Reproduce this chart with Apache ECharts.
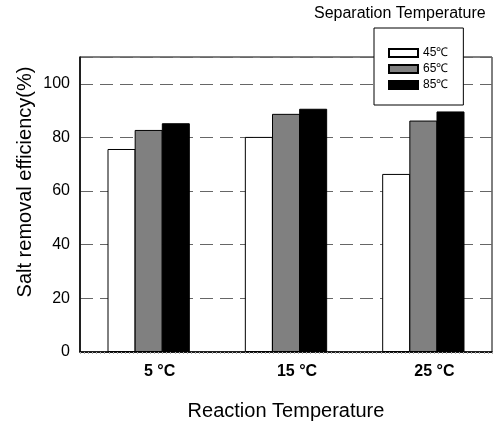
<!DOCTYPE html>
<html>
<head>
<meta charset="utf-8">
<script src="https://cdn.jsdelivr.net/npm/echarts@6/dist/echarts.min.js"></script>
<style>
  html, body { margin: 0; padding: 0; background: #fff; }
  #chart { width: 502px; height: 423px; }
</style>
</head>
<body>
<div id="chart"></div>
<script>
// reaction temperature groups
const categories = ['5 °C', '15 °C', '25 °C'];
// separation temperatures
const seriesNames = ['45℃', '65℃', '85℃'];
const values45 = [75.7, 80.2, 66.4];
const values65 = [82.8, 88.8, 86.3];
const values85 = [85.3, 90.7, 89.7];
const barColors = ['#ffffff', '#808080', '#000000'];

const font = 'Liberation Sans, Arial, sans-serif';
const chart = echarts.init(document.getElementById('chart'));

const makeSeries = (name, data, color) => ({
  name: name,
  type: 'bar',
  data: data,
  barWidth: 28,
  barGap: '-3%',
  itemStyle: { color: color, borderColor: '#000', borderWidth: 1 },
  xAxisIndex: 0,
  yAxisIndex: 0
});

chart.setOption({
  animation: false,
  title: {
    text: 'Separation Temperature',
    left: 314,
    top: 6,
    padding: 0,
    textStyle: { fontFamily: font, fontSize: 16, fontWeight: 'normal', color: '#000' }
  },
  legend: {
    data: seriesNames,
    orient: 'vertical',
    left: 374,
    top: 28,
    padding: [19, 15, 14, 14],
    itemGap: 4,
    itemWidth: 29,
    itemHeight: 8,
    itemTextGap: 7,
    icon: 'rect',
    backgroundColor: '#fff',
    borderColor: '#000',
    borderWidth: 1,
    z: 10,
    textStyle: { fontFamily: font, fontSize: 12, color: '#000' }
  },
  grid: {
    left: 80,
    right: 10,
    top: 57,
    bottom: 71,
    outerBoundsMode: 'none',
    show: true,
    borderColor: '#000',
    borderWidth: 1,
    backgroundColor: 'transparent'
  },
  xAxis: [
    {
      type: 'category',
      data: categories,
      axisLine: { lineStyle: { color: '#000', width: 1.5 } },
      axisTick: { show: false },
      axisLabel: {
        margin: 12,
        padding: [0, 0, 0, 22],
        fontFamily: font,
        fontSize: 16,
        fontWeight: 'bold',
        color: '#000'
      },
      name: 'Reaction Temperature',
      nameLocation: 'middle',
      nameGap: 49,
      nameTextStyle: { fontFamily: font, fontSize: 20, color: '#000' }
    },
    {
      // fine ticks under the bottom axis
      type: 'value',
      position: 'bottom',
      min: 0,
      max: 100,
      interval: 1,
      axisLine: { show: false },
      axisTick: { show: true, inside: false, length: 2, lineStyle: { color: '#aaa', width: 1 } },
      axisLabel: { show: false },
      splitLine: { show: false }
    }
  ],
  yAxis: {
    type: 'value',
    min: 0,
    max: 110,
    interval: 20,
    axisLine: { show: true, lineStyle: { color: '#000', width: 1.5 } },
    axisTick: { show: false },
    axisLabel: {
      margin: 10,
      fontFamily: font,
      fontSize: 16,
      color: '#000',
      formatter: v => (v > 100 ? '' : v)
    },
    splitLine: {
      show: true,
      lineStyle: { color: '#666', width: 1, type: [13, 7] }
    }
  },
  graphic: [
    {
      type: 'text',
      x: 25,
      y: 182,
      rotation: Math.PI / 2,
      style: {
        text: 'Salt removal efficiency(%)',
        fontFamily: font,
        fontSize: 20,
        fill: '#000',
        align: 'center',
        verticalAlign: 'middle'
      }
    }
  ],
  series: [
    makeSeries(seriesNames[0], values45, barColors[0]),
    makeSeries(seriesNames[1], values65, barColors[1]),
    makeSeries(seriesNames[2], values85, barColors[2])
  ]
});
</script>
</body>
</html>
